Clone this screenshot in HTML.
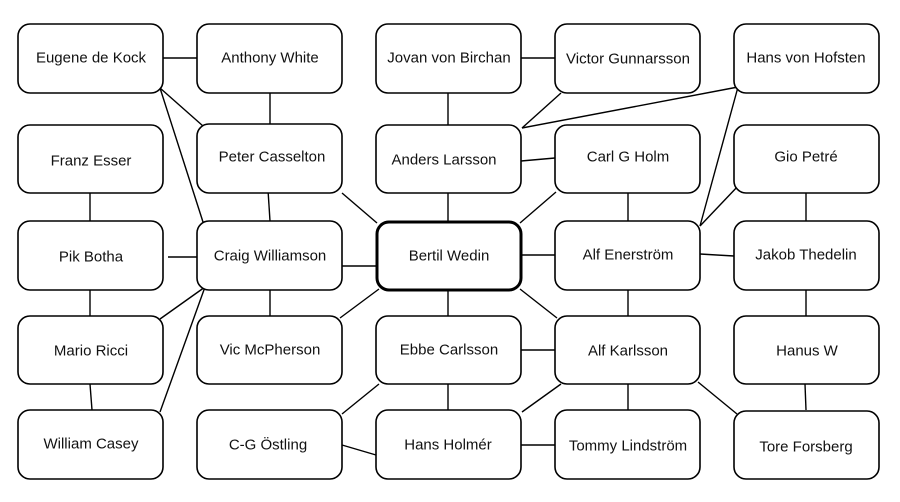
<!DOCTYPE html>
<html><head><meta charset="utf-8"><style>
html,body{margin:0;padding:0;background:#fff;}
svg{display:block;}
text{font-family:"Liberation Sans",sans-serif;font-size:15px;fill:#111;text-anchor:middle;dominant-baseline:central;}
rect{fill:#fff;stroke:#000;stroke-width:1.6;}
line{stroke:#000;stroke-width:1.4;}
</style></head><body>
<svg width="900" height="502" viewBox="0 0 900 502" xmlns="http://www.w3.org/2000/svg">
<g>
<line x1="163" y1="58" x2="197" y2="58"/>
<line x1="270" y1="93" x2="270" y2="125"/>
<line x1="203" y1="126" x2="160" y2="88"/>
<line x1="203" y1="222" x2="160" y2="88"/>
<line x1="268" y1="190" x2="270" y2="221"/>
<line x1="342" y1="193" x2="377" y2="223"/>
<line x1="90" y1="193" x2="90" y2="221"/>
<line x1="168" y1="257" x2="197" y2="257"/>
<line x1="90" y1="290" x2="90" y2="316"/>
<line x1="90" y1="384" x2="92" y2="410"/>
<line x1="205" y1="287" x2="160" y2="319"/>
<line x1="205" y1="287" x2="160" y2="412"/>
<line x1="342" y1="266" x2="376" y2="266"/>
<line x1="270" y1="290" x2="270" y2="316"/>
<line x1="340" y1="318" x2="379" y2="289"/>
<line x1="448" y1="93" x2="448" y2="125"/>
<line x1="521" y1="58" x2="555" y2="58"/>
<line x1="561" y1="93" x2="522" y2="128"/>
<line x1="738" y1="87" x2="522" y2="128"/>
<line x1="738" y1="87" x2="700" y2="226"/>
<line x1="521" y1="161" x2="555" y2="158"/>
<line x1="448" y1="193" x2="448" y2="221"/>
<line x1="556" y1="192" x2="520" y2="223"/>
<line x1="628" y1="193" x2="628" y2="221"/>
<line x1="739" y1="185" x2="700" y2="226"/>
<line x1="806" y1="193" x2="806" y2="221"/>
<line x1="521" y1="255" x2="555" y2="255"/>
<line x1="700" y1="254" x2="734" y2="256"/>
<line x1="520" y1="289" x2="557" y2="318"/>
<line x1="628" y1="290" x2="628" y2="332"/>
<line x1="448" y1="290" x2="448" y2="316"/>
<line x1="521" y1="350" x2="555" y2="350"/>
<line x1="806" y1="290" x2="806" y2="316"/>
<line x1="805" y1="384" x2="806" y2="410"/>
<line x1="448" y1="384" x2="448" y2="410"/>
<line x1="342" y1="414" x2="379" y2="384"/>
<line x1="342" y1="445" x2="376" y2="455"/>
<line x1="561" y1="384" x2="522" y2="412"/>
<line x1="628" y1="384" x2="628" y2="410"/>
<line x1="698" y1="382" x2="737" y2="414"/>
<line x1="521" y1="445" x2="555" y2="445"/>
</g>
<g>
<rect x="18" y="24" width="145" height="69" rx="12"/><text x="91" y="58">Eugene de Kock</text>
<rect x="18" y="125" width="145" height="68" rx="12"/><text x="91" y="161">Franz Esser</text>
<rect x="18" y="221" width="145" height="69" rx="12"/><text x="91" y="257">Pik Botha</text>
<rect x="18" y="316" width="145" height="68" rx="12"/><text x="91" y="351">Mario Ricci</text>
<rect x="18" y="410" width="145" height="69" rx="12"/><text x="91" y="444">William Casey</text>

<rect x="197" y="24" width="145" height="69" rx="12"/><text x="270" y="58">Anthony White</text>
<rect x="197" y="124" width="145" height="69" rx="12"/><text x="272" y="157">Peter Casselton</text>
<rect x="197" y="221" width="145" height="69" rx="12"/><text x="270" y="256">Craig Williamson</text>
<rect x="197" y="316" width="145" height="68" rx="12"/><text x="270" y="350">Vic McPherson</text>
<rect x="197" y="410" width="145" height="69" rx="12"/><text x="268" y="445">C-G Östling</text>

<rect x="376" y="24" width="145" height="69" rx="12"/><text x="449" y="58">Jovan von Birchan</text>
<rect x="376" y="125" width="145" height="68" rx="12"/><text x="444" y="160">Anders Larsson</text>
<rect x="377" y="222" width="144" height="68" rx="12" style="stroke-width:3"/><text x="449" y="256">Bertil Wedin</text>
<rect x="376" y="316" width="145" height="68" rx="12"/><text x="449" y="350">Ebbe Carlsson</text>
<rect x="376" y="410" width="145" height="69" rx="12"/><text x="448" y="445">Hans Holmér</text>

<rect x="555" y="24" width="145" height="69" rx="12"/><text x="628" y="59">Victor Gunnarsson</text>
<rect x="555" y="125" width="145" height="68" rx="12"/><text x="628" y="157">Carl G Holm</text>
<rect x="555" y="221" width="145" height="69" rx="12"/><text x="628" y="255">Alf Enerström</text>
<rect x="555" y="316" width="145" height="68" rx="12"/><text x="628" y="351">Alf Karlsson</text>
<rect x="555" y="410" width="145" height="69" rx="12"/><text x="628" y="446">Tommy Lindström</text>

<rect x="734" y="24" width="145" height="69" rx="12"/><text x="806" y="58">Hans von Hofsten</text>
<rect x="734" y="125" width="145" height="68" rx="12"/><text x="806" y="157">Gio Petré</text>
<rect x="734" y="221" width="145" height="69" rx="12"/><text x="806" y="255">Jakob Thedelin</text>
<rect x="734" y="316" width="145" height="68" rx="12"/><text x="807" y="351">Hanus W</text>
<rect x="734" y="411" width="145" height="68" rx="12"/><text x="806" y="447">Tore Forsberg</text>
</g>
</svg>
</body></html>
